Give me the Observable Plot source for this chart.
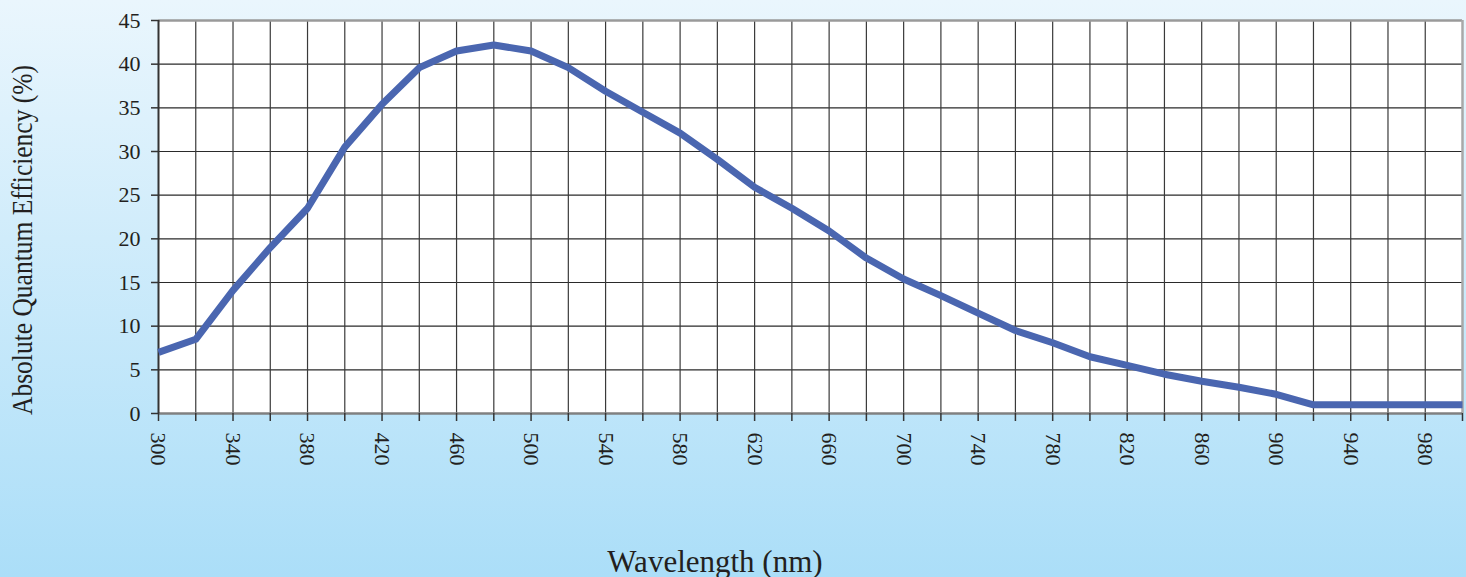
<!DOCTYPE html>
<html><head><meta charset="utf-8">
<script src="https://cdn.jsdelivr.net/npm/d3@7"></script>
<script src="https://cdn.jsdelivr.net/npm/@observablehq/plot@0.6"></script>
<style>
html,body{margin:0;padding:0;}
body{width:1466px;height:577px;overflow:hidden;background:linear-gradient(#eaf6fd,#abdef8);}
</style></head><body><div id="chart"></div>
<script>
const wavelengths = [300,320,340,360,380,400,420,440,460,480,500,520,540,560,580,600,620,640,660,680,700,720,740,760,780,800,820,840,860,880,900,920,940,960,980,1000];
const efficiency = [7.0,8.5,14.1,19.0,23.5,30.5,35.4,39.6,41.5,42.2,41.5,39.6,36.9,34.5,32.1,29.1,25.9,23.5,20.9,17.8,15.4,13.5,11.5,9.5,8.1,6.5,5.5,4.5,3.7,3.0,2.2,1.0,1.0,1.0,1.0,1.0];
const xTickLabels = [300,340,380,420,460,500,540,580,620,660,700,740,780,820,860,900,940,980];
const yTicks = [0,5,10,15,20,25,30,35,40,45];
const xLabel = "Wavelength (nm)";
const yLabel = "Absolute Quantum Efficiency (%)";

const data = wavelengths.map((w, i) => ({w, qe: efficiency[i]}));
const font = "'Liberation Serif', 'Times New Roman', serif";
const ink = "#231f20";

const chart = Plot.plot({
  width: 1466, height: 577,
  marginLeft: 158, marginRight: 4, marginTop: 20, marginBottom: 164,
  style: {background: "transparent", fontFamily: font, fontSize: "22px", color: ink, overflow: "visible"},
  x: {domain: [300, 1000]},
  y: {domain: [0, 45]},
  marks: [
    Plot.frame({fill: "white", stroke: null}),
    Plot.gridY(yTicks.slice(1, -1), {stroke: "#2a2a2a", strokeOpacity: 1, strokeWidth: 1.2}),
    Plot.gridX(wavelengths.slice(1, -1), {stroke: "#3a3a3a", strokeOpacity: 1, strokeWidth: 1.2}),
    Plot.ruleY([45], {stroke: "#9a9a9a", strokeWidth: 2.5}),
    Plot.ruleX([1000], {stroke: "#a8a8a8", strokeWidth: 2.5}),
    Plot.ruleY([0], {stroke: "#808080", strokeWidth: 2.5}),
    Plot.ruleX([300], {stroke: "#333", strokeWidth: 2}),
    Plot.line(data, {x: "w", y: "qe", stroke: "#4a66b0", strokeWidth: 7, strokeLinejoin: "round", strokeLinecap: "butt"}),
    Plot.axisY(yTicks, {tickSize: 7, tickPadding: 11, label: null, stroke: "#333", strokeWidth: 1.5, fontSize: 22, fill: ink}),
    Plot.axisX(wavelengths, {tickSize: 8, tickFormat: () => "", label: null, stroke: "#333", strokeWidth: 1.5}),
    Plot.axisX(xTickLabels, {tickSize: 0, tickRotate: 90, tickPadding: 19, label: null, fontSize: 22, fill: ink})
  ]
});
document.getElementById("chart").appendChild(chart);

const svg = d3.select(chart);
svg.append("text")
  .attr("transform", "translate(21,240) rotate(-90)")
  .attr("text-anchor", "middle")
  .attr("dominant-baseline", "central")
  .attr("font-family", font)
  .attr("font-size", 30)
  .attr("fill", ink)
  .attr("textLength", 350)
  .attr("lengthAdjust", "spacingAndGlyphs")
  .text(yLabel);
svg.append("text")
  .attr("x", 715).attr("y", 572)
  .attr("text-anchor", "middle")
  .attr("font-family", font)
  .attr("font-size", 31)
  .attr("fill", ink)
  .text(xLabel);
</script></body></html>
